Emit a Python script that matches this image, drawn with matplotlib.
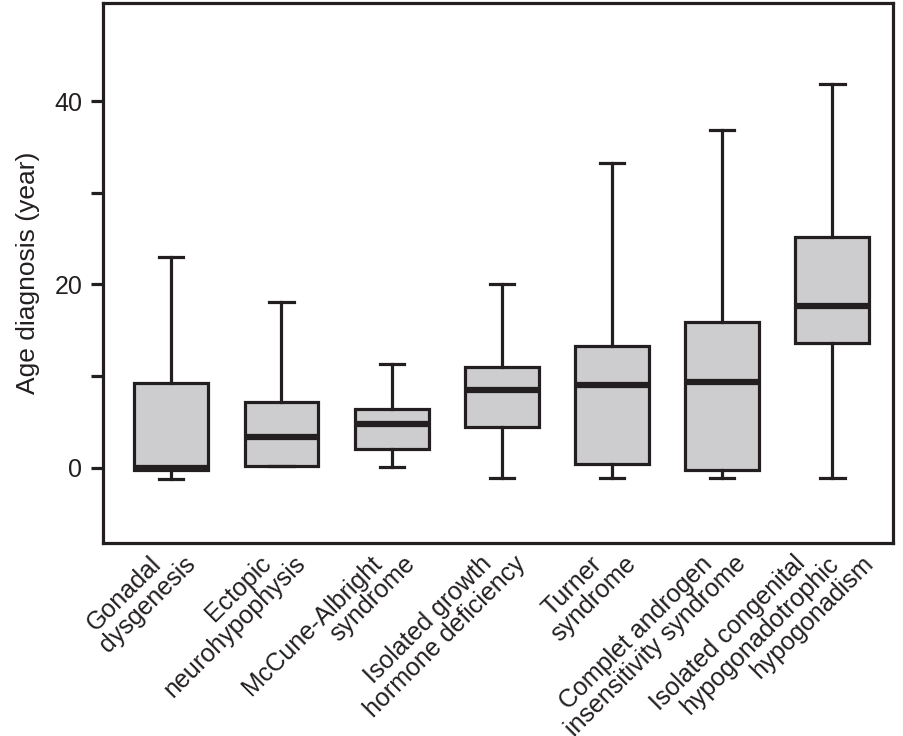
import matplotlib
matplotlib.use("Agg")
import matplotlib.pyplot as plt
from matplotlib.transforms import ScaledTranslation, blended_transform_factory

categories = ["Gonadal\ndysgenesis", "Ectopic\nneurohypophysis", "McCune-Albright\nsyndrome",
              "Isolated growth\nhormone deficiency", "Turner\nsyndrome",
              "Complet androgen\ninsensitivity syndrome",
              "Isolated congenital\nhypogonadotrophic\nhypogonadism"]
whislo = [-1.2, 0.2, 0.1, -1.1, -1.1, -1.1, -1.1]
q1 = [-0.2, 0.2, 2.1, 4.4, 0.4, -0.2, 13.6]
med = [0.0, 3.4, 4.8, 8.5, 9.0, 9.4, 17.7]
q3 = [9.3, 7.2, 6.4, 11.0, 13.3, 15.9, 25.2]
whishi = [23.0, 18.1, 11.3, 20.0, 33.2, 36.8, 41.9]
yticks = [0, 20, 40]
yminor = [10, 30]

plt.rcParams['font.family'] = ['Liberation Sans', 'DejaVu Sans']
fig = plt.figure(figsize=(9.04, 7.36), dpi=100)
ax = fig.add_axes([103/904, 1-543/736, 790/904, 540/736])

stats = []
for i in range(len(categories)):
    stats.append(dict(whislo=whislo[i], q1=q1[i], med=med[i], q3=q3[i], whishi=whishi[i], label=""))

dark = '#231f20'
positions = list(range(1, len(categories)+1))
ax.bxp(stats, positions=positions, widths=0.67, patch_artist=True, showfliers=False,
       boxprops=dict(facecolor='#cdcdcf', edgecolor=dark, linewidth=2.3),
       medianprops=dict(color=dark, linewidth=4.5, solid_capstyle='butt'),
       whiskerprops=dict(color=dark, linewidth=2.3),
       capprops=dict(color=dark, linewidth=2.3),
       capwidths=0.22)

ax.set_xlim(0.38, 7.55)
ax.set_ylim(-8.2, 50.7)
ax.set_yticks(yticks)
ax.set_yticks(yminor, minor=True)
ax.tick_params(axis='y', which='both', length=9, width=2.3, color=dark, labelsize=18, pad=6, labelcolor='#231f20')
ax.tick_params(axis='x', length=0, labelbottom=False)

# category labels: each line right-aligned on a common row below the axis
base = blended_transform_factory(ax.transData, ax.transAxes)
step_px = 34
for pos, cat in zip(positions, categories):
    lines = cat.split("\n")
    n = len(lines)
    for j, line in enumerate(lines):
        dx = (j - (n - 1) / 2) * step_px + 3
        tr = base + ScaledTranslation(dx / 100, -17 / 100, fig.dpi_scale_trans)
        ax.text(pos, 0, line, transform=tr, rotation=45, ha='right', va='center',
                rotation_mode='anchor', fontsize=18, color=dark, clip_on=False)

ax.set_ylabel("Age diagnosis (year)", fontsize=19, color=dark, labelpad=10)
for s in ax.spines.values():
    s.set_linewidth(2.3)
    s.set_color(dark)

fig.savefig("out.png", dpi=100)
